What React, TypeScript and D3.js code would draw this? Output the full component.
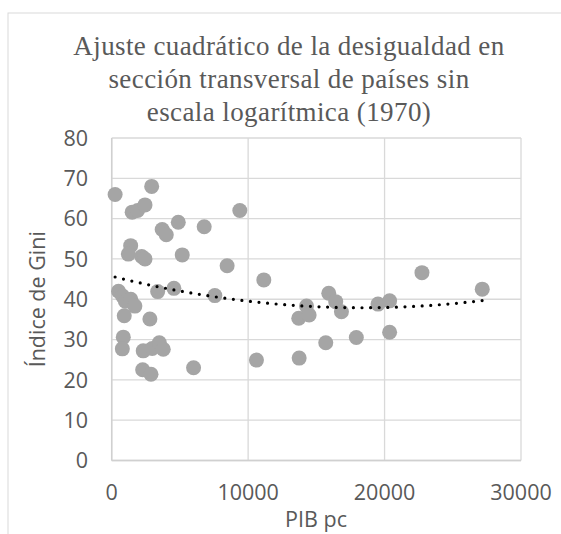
import React from "react";
import * as d3 from "d3";

const titleLines = [
  "Ajuste cuadrático de la desigualdad en",
  "sección transversal de países sin",
  "escala logarítmica (1970)",
];
const xLabel = "PIB pc";
const yLabel = "Índice de Gini";
const xTicks = [0, 10000, 20000, 30000];
const yTicks = [0, 10, 20, 30, 40, 50, 60, 70, 80];

const gdp = [
  250, 2930, 1500, 1900, 2440, 3700, 4000, 4880, 6780, 1390,
  1220, 2200, 2440, 5170, 8460, 9390, 3370, 4560, 7560, 500,
  800, 1000, 1400, 1700, 920, 2800, 850, 780, 2310, 2970,
  3490, 3780, 2270, 2880, 6000, 11150, 15910, 16420, 16840, 14280,
  13710, 14470, 10610, 13740, 15690, 17930, 19520, 20370, 20370, 22740,
  27160,
];
const gini = [
  66.0, 68.0, 61.6, 62.0, 63.4, 57.3, 56.0, 59.1, 58.0, 53.3,
  51.2, 50.6, 50.0, 51.0, 48.3, 62.0, 41.9, 42.7, 40.9, 42.0,
  40.8, 39.5, 40.0, 38.3, 35.9, 35.1, 30.6, 27.7, 27.2, 27.8,
  29.2, 27.6, 22.5, 21.4, 23.0, 44.8, 41.5, 39.4, 36.9, 38.3,
  35.3, 36.1, 24.9, 25.4, 29.2, 30.5, 38.8, 39.6, 31.8, 46.6,
  42.5,
];

// least squares quadratic fit
function quadFit(xs: number[], ys: number[]) {
  const n = xs.length;
  let s1 = 0, s2 = 0, s3 = 0, s4 = 0, t0 = 0, t1 = 0, t2 = 0;
  for (let i = 0; i < n; i++) {
    const x = xs[i] / 1000, y = ys[i];
    s1 += x; s2 += x * x; s3 += x * x * x; s4 += x * x * x * x;
    t0 += y; t1 += x * y; t2 += x * x * y;
  }
  const M = [
    [n, s1, s2, t0],
    [s1, s2, s3, t1],
    [s2, s3, s4, t2],
  ];
  for (let i = 0; i < 3; i++) {
    for (let j = i + 1; j < 3; j++) {
      const f = M[j][i] / M[i][i];
      for (let k = i; k < 4; k++) M[j][k] -= f * M[i][k];
    }
  }
  const c = [0, 0, 0];
  for (let i = 2; i >= 0; i--) {
    let s = M[i][3];
    for (let k = i + 1; k < 3; k++) s -= M[i][k] * c[k];
    c[i] = s / M[i][i];
  }
  return (x: number) => c[0] + c[1] * (x / 1000) + c[2] * (x / 1000) ** 2;
}

export default function App() {
  const W = 561, H = 534;
  const x = d3.scaleLinear().domain([0, 30000]).range([111.7, 521]);
  const y = d3.scaleLinear().domain([0, 80]).range([460.5, 138]);
  const fit = quadFit(gdp, gini);
  const [xmin, xmax] = d3.extent(gdp) as [number, number];
  const fitPts = d3.range(0, 101).map((i) => {
    const xv = xmin + ((xmax - xmin) * i) / 100;
    return [xv, fit(xv)] as [number, number];
  });
  const line = d3
    .line<[number, number]>()
    .x((d) => x(d[0]))
    .y((d) => y(d[1]));
  const grid = "#d9d9d9";
  const txt = "#595959";
  const sans = "'Open Sans', 'Liberation Sans', sans-serif";
  return (
    <svg width={W} height={H} style={{ position: "absolute", left: 0, top: 0 }}>
      <rect x={0} y={0} width={W} height={H} fill="#fff" />
      <rect x={8} y={13} width={700} height={700} fill="#fff" stroke={grid} strokeWidth={1} />
      <g fontFamily="'Liberation Serif', serif" fontSize={27} letterSpacing={0.4} fill={txt} textAnchor="middle">
        {titleLines.map((t, i) => (
          <text key={i} x={289} y={55 + i * 33}>
            {t}
          </text>
        ))}
      </g>
      {yTicks.map((t) => (
        <line key={"gy" + t} x1={x(0)} x2={x(30000)} y1={y(t)} y2={y(t)} stroke={grid} strokeWidth={1.3} />
      ))}
      {xTicks.map((t) => (
        <line key={"gx" + t} x1={x(t)} x2={x(t)} y1={y(0)} y2={y(80)} stroke={grid} strokeWidth={1.3} />
      ))}
      <line x1={x(0)} x2={x(0)} y1={y(0)} y2={y(80)} stroke="#d0d0d0" strokeWidth={1.5} />
      <line x1={x(0)} x2={x(30000)} y1={y(0)} y2={y(0)} stroke="#d0d0d0" strokeWidth={1.5} />
      <g fontFamily={sans} fontSize={21.5} fill={txt}>
        {yTicks.map((t) => (
          <text key={"ty" + t} x={88} y={y(t)} dy="0.36em" textAnchor="end">
            {t}
          </text>
        ))}
        {xTicks.map((t) => (
          <text key={"tx" + t} x={x(t)} y={500} textAnchor="middle">
            {t}
          </text>
        ))}
        <text x={316} y={527} textAnchor="middle">{xLabel}</text>
        <text transform={`translate(45,${(y(0) + y(80)) / 2}) rotate(-90)`} textAnchor="middle">{yLabel}</text>
      </g>
      {gdp.map((g, i) => (
        <circle key={i} cx={x(g)} cy={y(gini[i])} r={7.5} fill="#a5a5a5" />
      ))}
      <path
        d={line(fitPts) || ""}
        fill="none"
        stroke="#000"
        strokeWidth={3.2}
        strokeLinecap="round"
        strokeDasharray="0 8.6"
      />
    </svg>
  );
}
